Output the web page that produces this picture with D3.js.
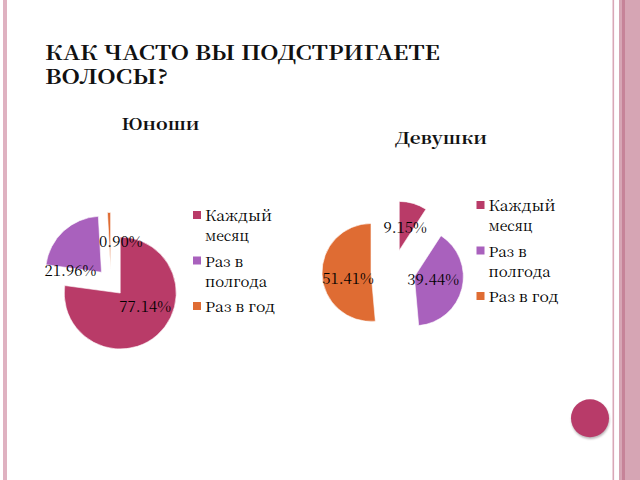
<!DOCTYPE html>
<html>
<head>
<meta charset="utf-8">
<script src="https://cdn.jsdelivr.net/npm/d3@7"></script>
<style>
  html, body { margin: 0; padding: 0; background: #ffffff; }
  svg { display: block; }
</style>
</head>
<body>
<svg id="chart" width="640" height="480"></svg>
<script>
// ---- data ----
const categories = ["Каждый месяц", "Раз в полгода", "Раз в год"];
const legendLines = [["Каждый", "месяц"], ["Раз в", "полгода"], ["Раз в год"]];
const boysValues = [77.14, 21.96, 0.90];
const girlsValues = [9.15, 39.44, 51.41];
const mainTitle = ["КАК ЧАСТО ВЫ ПОДСТРИГАЕТЕ", "ВОЛОСЫ?"];
const boysTitle = "Юноши";
const girlsTitle = "Девушки";

// ---- styles / layout ----
const colors = ["#b93b68", "#a961bd", "#df6c33"];
const serif = '"Noto Serif CJK SC", "Liberation Serif", serif';
const legendWidths = [[67, 44], [38, 62], [70]];

const svg = d3.select("#chart");

// frame decoration
svg.append("rect").attr("x", 3).attr("y", 0).attr("width", 4).attr("height", 480).attr("fill", "#dfb2c1");
svg.append("rect").attr("x", 612.5).attr("y", 0).attr("width", 1.6).attr("height", 480).attr("fill", "#d9a7b7");
svg.append("rect").attr("x", 619).attr("y", 0).attr("width", 21).attr("height", 480).attr("fill", "#d6a5b4");
svg.append("rect").attr("x", 622).attr("y", 0).attr("width", 3).attr("height", 480).attr("fill", "#c68398");

// title
const titleWidths = [395, 123];
const titleBaselines = [60, 83.5];
mainTitle.forEach((t, i) => {
  svg.append("text")
    .attr("x", 45).attr("y", titleBaselines[i])
    .style("font-family", serif).style("font-weight", "bold").style("font-size", "19.5px")
    .attr("fill", "#111")
    .attr("textLength", titleWidths[i]).attr("lengthAdjust", "spacingAndGlyphs")
    .text(t);
});

const pie = d3.pie().sort(null).startAngle(0).endAngle(2 * Math.PI);

function drawPie(cfg) {
  const g = svg.append("g");
  g.append("text")
    .attr("x", cfg.titleX).attr("y", cfg.titleY)
    .style("font-family", serif).style("font-weight", "bold").style("font-size", "16px")
    .attr("fill", "#111")
    .attr("textLength", cfg.titleW).attr("lengthAdjust", "spacingAndGlyphs")
    .text(cfg.title);

  const arcs = pie(cfg.values);
  const arc = d3.arc().innerRadius(0).outerRadius(cfg.r);

  arcs.forEach((a, i) => {
    const mid = (a.startAngle + a.endAngle) / 2;
    const ox = cfg.cx + cfg.explode * Math.sin(mid);
    const oy = cfg.cy - cfg.explode * Math.cos(mid);
    g.append("path")
      .attr("transform", `translate(${ox},${oy})`)
      .attr("d", arc(a))
      .attr("fill", colors[i])
      .attr("stroke", "#ffffff").attr("stroke-width", 0.6);
  });
  arcs.forEach((a, i) => {
    const mid = (a.startAngle + a.endAngle) / 2;
    const ox = cfg.cx + cfg.explode * Math.sin(mid);
    const oy = cfg.cy - cfg.explode * Math.cos(mid);
    const c = arc.centroid(a);
    g.append("text")
      .attr("x", ox + c[0] + cfg.nudge[i][0])
      .attr("y", oy + c[1] + cfg.nudge[i][1])
      .attr("text-anchor", "middle").attr("dominant-baseline", "central")
      .style("font-family", serif).style("font-size", "15px").attr("fill", "#000")
      .text(a.data.toFixed(2) + "%");
  });

  // legend
  const entryOffsets = [0, 45.5, 91];
  legendLines.forEach((lines, i) => {
    const y0 = cfg.legY + entryOffsets[i];
    g.append("rect")
      .attr("x", cfg.legX).attr("y", y0 - 4).attr("width", 8).attr("height", 8)
      .attr("fill", colors[i]);
    lines.forEach((ln, j) => {
      g.append("text")
        .attr("x", cfg.legX + 12).attr("y", y0 + j * 20)
        .attr("dominant-baseline", "central")
        .style("font-family", serif).style("font-size", "14px").attr("fill", "#000")
        .attr("textLength", legendWidths[i][j]).attr("lengthAdjust", "spacingAndGlyphs")
        .text(ln);
    });
  });
}

drawPie({
  values: boysValues, title: boysTitle,
  titleX: 121.5, titleY: 130, titleW: 78,
  cx: 111, cy: 282.5, r: 56, explode: 14,
  nudge: [[6.5, -9], [-12, 17.6], [11, 0]],
  legX: 193, legY: 215
});

drawPie({
  values: girlsValues, title: girlsTitle,
  titleX: 395, titleY: 143.5, titleW: 92,
  cx: 393, cy: 271.5, r: 49, explode: 22,
  nudge: [[-1, 0], [-5, -4], [1.5, 3.5]],
  legX: 476.5, legY: 205
});

// decorative circle with shadow
const defs = svg.append("defs");
defs.append("filter").attr("id", "blur")
  .append("feGaussianBlur").attr("stdDeviation", 1.2);
svg.append("circle").attr("cx", 590.5).attr("cy", 420).attr("r", 19)
  .attr("fill", "#8a7f84").attr("opacity", 0.6).attr("filter", "url(#blur)");
svg.append("circle").attr("cx", 590).attr("cy", 418.3).attr("r", 19)
  .attr("fill", "#b83b69");
</script>
</body>
</html>
